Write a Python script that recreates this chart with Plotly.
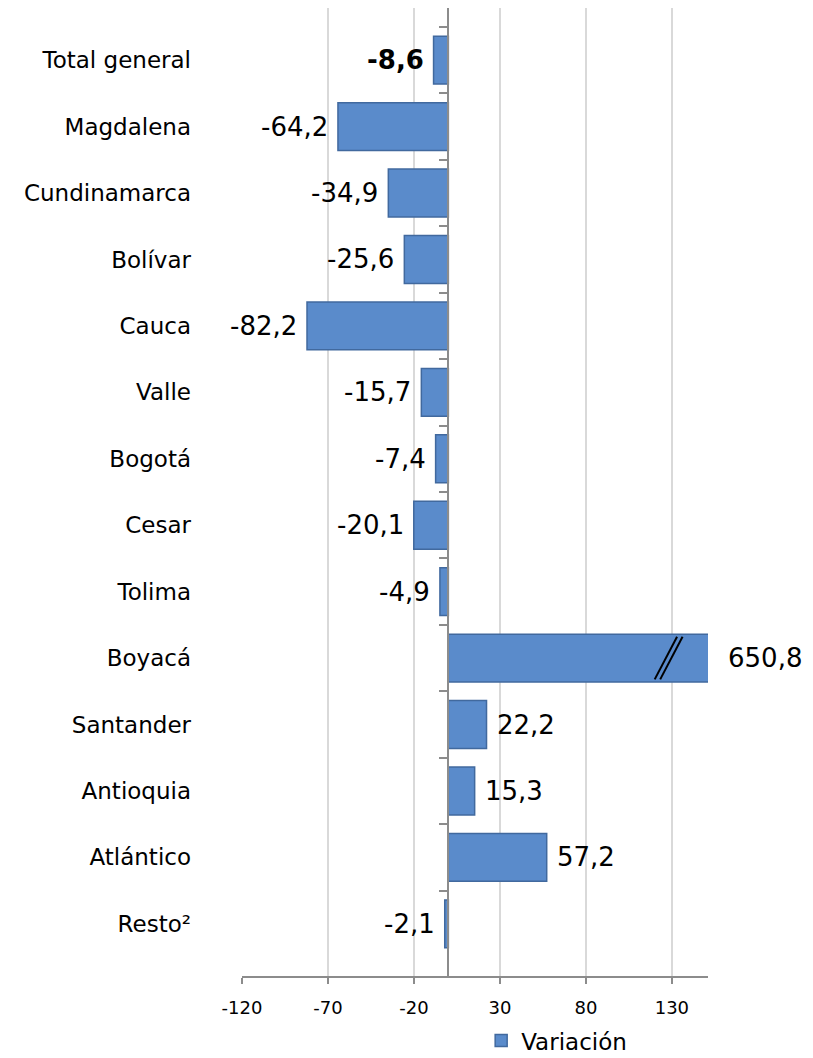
import plotly.graph_objects as go

# Variación por departamento (orden de arriba hacia abajo)
departamentos = ["Total general", "Magdalena", "Cundinamarca", "Bolívar", "Cauca", "Valle",
                 "Bogotá", "Cesar", "Tolima", "Boyacá", "Santander", "Antioquia",
                 "Atlántico", "Resto²"]
variacion = [-8.6, -64.2, -34.9, -25.6, -82.2, -15.7, -7.4, -20.1, -4.9, 650.8, 22.2,
             15.3, 57.2, -2.1]
x_ticks = [-120, -70, -20, 30, 80, 130]
x_min, x_max = -120, 151

FONT = "DejaVu Sans"
AZUL = "#5A8BCB"

fig = go.Figure()
fig.add_trace(go.Bar(
    y=departamentos, x=variacion, orientation="h", name="Variación",
    marker=dict(color=AZUL, line=dict(color="#41699E", width=1.5)),
    width=0.72, hoverinfo="x+y",
))
# eje auxiliar en cero para las marcas de categoría
fig.add_trace(go.Scatter(
    y=departamentos, x=[0] * len(departamentos), yaxis="y2", mode="markers",
    marker=dict(opacity=0), showlegend=False, hoverinfo="skip",
))

def fmt(v):
    return f"{v:.1f}".replace(".", ",")

annots = []
for i, (d, v) in enumerate(zip(departamentos, variacion)):
    txt = fmt(v)
    if i == 0:
        txt = "<b>" + txt + "</b>"
    if v < 0:
        annots.append(dict(x=v, y=d, text=txt, xanchor="right", xshift=-8,
                           showarrow=False, font=dict(size=26, color="black", family=FONT)))
    else:
        annots.append(dict(x=min(v, x_max), y=d, text=txt, xanchor="left",
                           xshift=18 if v > x_max else 8,
                           showarrow=False, font=dict(size=26, color="black", family=FONT)))

# marcas de corte en la barra de Boyacá
i_boy = departamentos.index("Boyacá")
shapes = []
for dx in (0, 3.2):
    shapes.append(dict(type="line", xref="x", yref="y",
                       x0=120 + dx, x1=133 + dx, y0=i_boy + 0.32, y1=i_boy - 0.32,
                       line=dict(color="black", width=2)))

fig.update_layout(
    width=813, height=1058,
    margin=dict(l=234, r=113, t=0, b=90, autoexpand=False),
    plot_bgcolor="white", paper_bgcolor="white",
    font=dict(family=FONT, color="black"),
    xaxis=dict(range=[x_min, x_max], tickvals=x_ticks, ticktext=[str(t) for t in x_ticks],
               showgrid=True, gridcolor="#D9D9D9", gridwidth=2, zeroline=False,
               showline=True, linecolor="#8C8C8C", linewidth=2, automargin=False,
               ticks="outside", ticklen=6, tickcolor="#8C8C8C", tickwidth=2,
               ticklabelstandoff=8, tickfont=dict(size=18, family=FONT)),
    yaxis=dict(categoryorder="array", categoryarray=departamentos, autorange="reversed",
               showgrid=False, zeroline=False, showline=False, ticks="", automargin=False,
               ticklabelstandoff=50, tickfont=dict(size=23, family=FONT)),
    yaxis2=dict(overlaying="y", matches="y", anchor="free", automargin=False,
                position=(0 - x_min) / (x_max - x_min),
                showline=True, linecolor="#8C8C8C", linewidth=2,
                ticks="outside", tickson="boundaries", ticklen=8,
                tickcolor="#8C8C8C", tickwidth=1.5, showticklabels=False,
                showgrid=False, zeroline=False),
    showlegend=True,
    legend=dict(xref="container", yref="container", x=0.582, y=0.024,
                xanchor="left", yanchor="middle",
                font=dict(size=23, family=FONT), itemwidth=30),
    annotations=annots,
    shapes=shapes,
)

fig.write_html("out.html")
